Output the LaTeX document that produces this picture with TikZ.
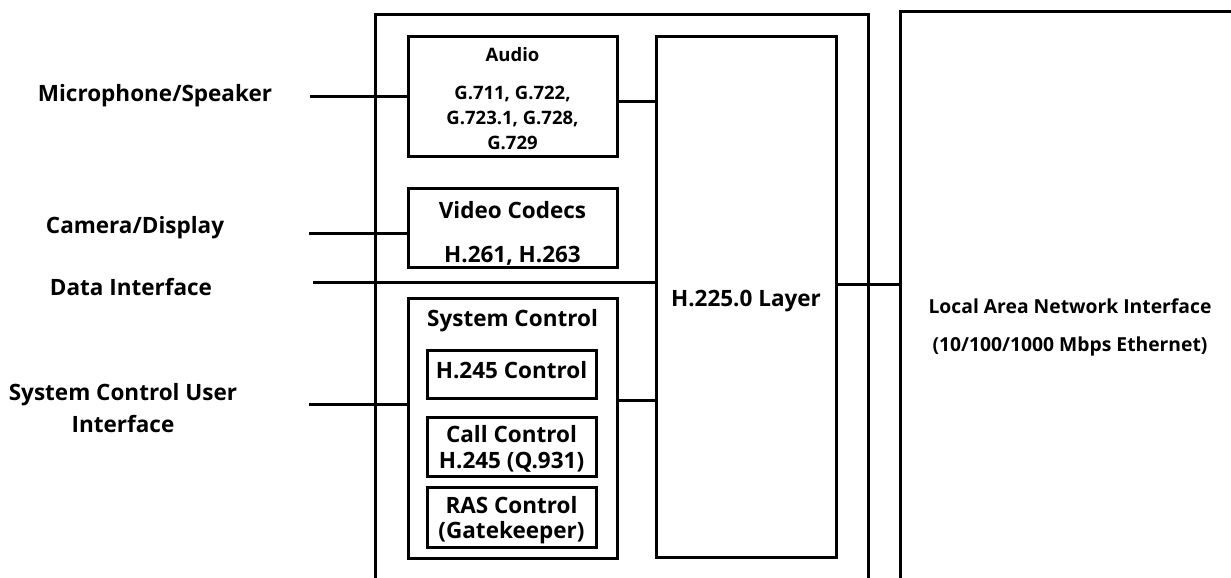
\documentclass[tikz,border=0pt]{standalone}
\usepackage{fontspec}
\setmainfont{Open Sans}
\usetikzlibrary{positioning}
\usetikzlibrary{calc}

\tikzset{
  blk/.style={draw, line width=3pt, inner sep=0pt, align=center,
    font=\bfseries\fontsize{22.5}{45}\selectfont},
  lbl/.style={inner sep=0pt, align=center,
    font=\bfseries\fontsize{22.5}{32}\selectfont},
  wire/.style={line width=3pt},
}

\begin{document}
\begin{tikzpicture}[x=1pt,y=-1pt]
\useasboundingbox (0,0) rectangle (1231,578);
\clip (0,0) rectangle (1231,578);

% terminal frame and LAN side
\node[blk, minimum width=493pt, minimum height=605pt](terminal) at (621.5,317.5){};
\node[blk, minimum width=340pt, minimum height=636pt,
  font=\bfseries\fontsize{19.3}{37.5}\selectfont,
  text height=42pt, text depth=0pt](lan) at (1070,330)
  {Local Area Network Interface\\(10/100/1000 Mbps Ethernet)};

% codecs and control
\node[blk, minimum width=209pt, minimum height=119pt,
  font=\bfseries\fontsize{18.5}{25}\selectfont,
  text height=106pt, text depth=0pt](audio) at (512.5,96.5)
  {Audio\\[13pt]G.711, G.722,\\G.723.1, G.728,\\G.729};
\node[blk, minimum width=209pt, minimum height=79pt,
  font=\bfseries\fontsize{22.5}{44.5}\selectfont,
  text height=70pt, text depth=0pt](video) at (512.5,227.5)
  {Video Codecs\\H.261, H.263};
\node[blk, minimum width=209pt, minimum height=260pt,
  label={[lbl, anchor=north, text height=16pt, text depth=0pt, yshift=-14pt]north:System Control}](sysctl) at (512.5,428){};
\node[blk, minimum width=169pt, minimum height=48pt,
  text height=16pt, text depth=8pt](h245) at (511.5,374){H.245 Control};
\node[blk, minimum width=169pt, minimum height=59pt,
  font=\bfseries\fontsize{22.5}{26}\selectfont,
  text height=43pt, text depth=0pt](call) at (511.5,446.5)
  {Call Control\\H.245 (Q.931)};
\node[blk, minimum width=169pt, minimum height=60pt,
  font=\bfseries\fontsize{22.5}{25}\selectfont,
  text height=42pt, text depth=0pt](ras) at (511.5,517)
  {RAS Control\\(Gatekeeper)};
\node[blk, minimum width=180pt, minimum height=520pt,
  text height=18pt, text depth=0pt](h225) at (746,297){H.225.0 Layer};

% user side
\node[lbl, anchor=base](mic) at (155,101){Microphone/Speaker};
\node[lbl, anchor=base](cam) at (135,233.5){Camera/Display};
\node[lbl, anchor=base](data) at (131,295.5){Data Interface};
\node[lbl, anchor=base](scui) at (123,432.5){System Control User\\Interface};
\coordinate (micin) at (310,96);
\coordinate (camin) at (309,233);
\coordinate (datain) at (313,282);
\coordinate (scuiin) at (309,404);

\path
(micin) edge[wire] (micin -| audio.west)
(camin) edge[wire] (camin -| video.west)
(datain) edge[wire] (datain -| h225.west)
(scuiin) edge[wire] (scuiin -| sysctl.west)

(audio.east |- 0,101) edge[wire] (h225.west |- 0,101)
(sysctl.east |- 0,400) edge[wire] (h225.west |- 0,400)
(h225.east |- 0,284) edge[wire] (lan.west |- 0,284);
\end{tikzpicture}
\end{document}
